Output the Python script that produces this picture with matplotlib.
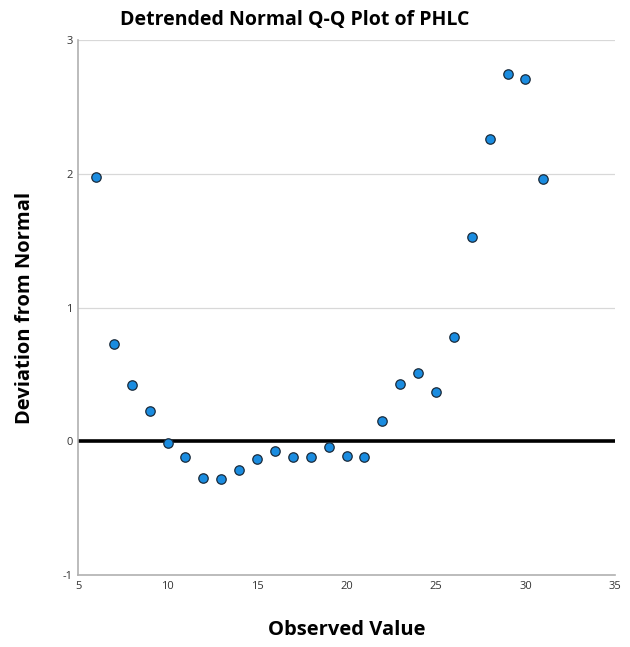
import matplotlib
matplotlib.use("Agg")
import matplotlib.pyplot as plt

observed = [6, 7, 8, 9, 10, 11, 12, 13, 14, 15, 16, 17, 18,
            19, 20, 21, 22, 23, 24, 25, 26, 27, 28, 29, 30, 31]
deviation = [1.98, 0.73, 0.42, 0.23, -0.01, -0.12, -0.27, -0.28, -0.21,
             -0.13, -0.07, -0.12, -0.12, -0.04, -0.11, -0.12, 0.15, 0.43,
             0.51, 0.37, 0.78, 1.53, 2.26, 2.75, 2.71, 1.96]
xticks = [5, 10, 15, 20, 25, 30, 35]
yticks = [-1, 0, 1, 2, 3]
ytick_labels = ['-1', '0', '1', '2', '3']

plt.rcParams['font.family'] = ['Open Sans', 'DejaVu Sans']

fig = plt.figure(figsize=(6.3, 6.47), dpi=100)
ax = fig.add_axes([0.124, 0.111, 0.852, 0.827])

ax.set_xlim(5, 35)
ax.set_ylim(-1, 3)
ax.set_xticks(xticks)
ax.set_yticks(yticks, ytick_labels)
ax.tick_params(length=0, labelsize=8, colors='#333333', pad=4)

for y in [1, 2, 3]:
    ax.axhline(y, color='#d8d8d8', lw=0.9, zorder=1)
ax.axhline(0, color='black', lw=2.6, zorder=2)

for s in ['top', 'right']:
    ax.spines[s].set_visible(False)
for s in ['left', 'bottom']:
    ax.spines[s].set_color('#b0b0b0')
    ax.spines[s].set_linewidth(1.2)

ax.scatter(observed, deviation, s=46, color='#1a8ce0', edgecolor='#1a2a3a',
           linewidth=0.9, zorder=3, clip_on=False)

fig.text(295 / 630, 1 - 20 / 647, 'Detrended Normal Q-Q Plot of PHLC',
         fontsize=14, fontweight='bold', ha='center', va='center')
ax.set_xlabel('Observed Value', fontsize=14.5, fontweight='bold', labelpad=20)
ax.set_ylabel('Deviation from Normal', fontsize=14.5, fontweight='bold', labelpad=20)

fig.savefig('out.png', dpi=100)
